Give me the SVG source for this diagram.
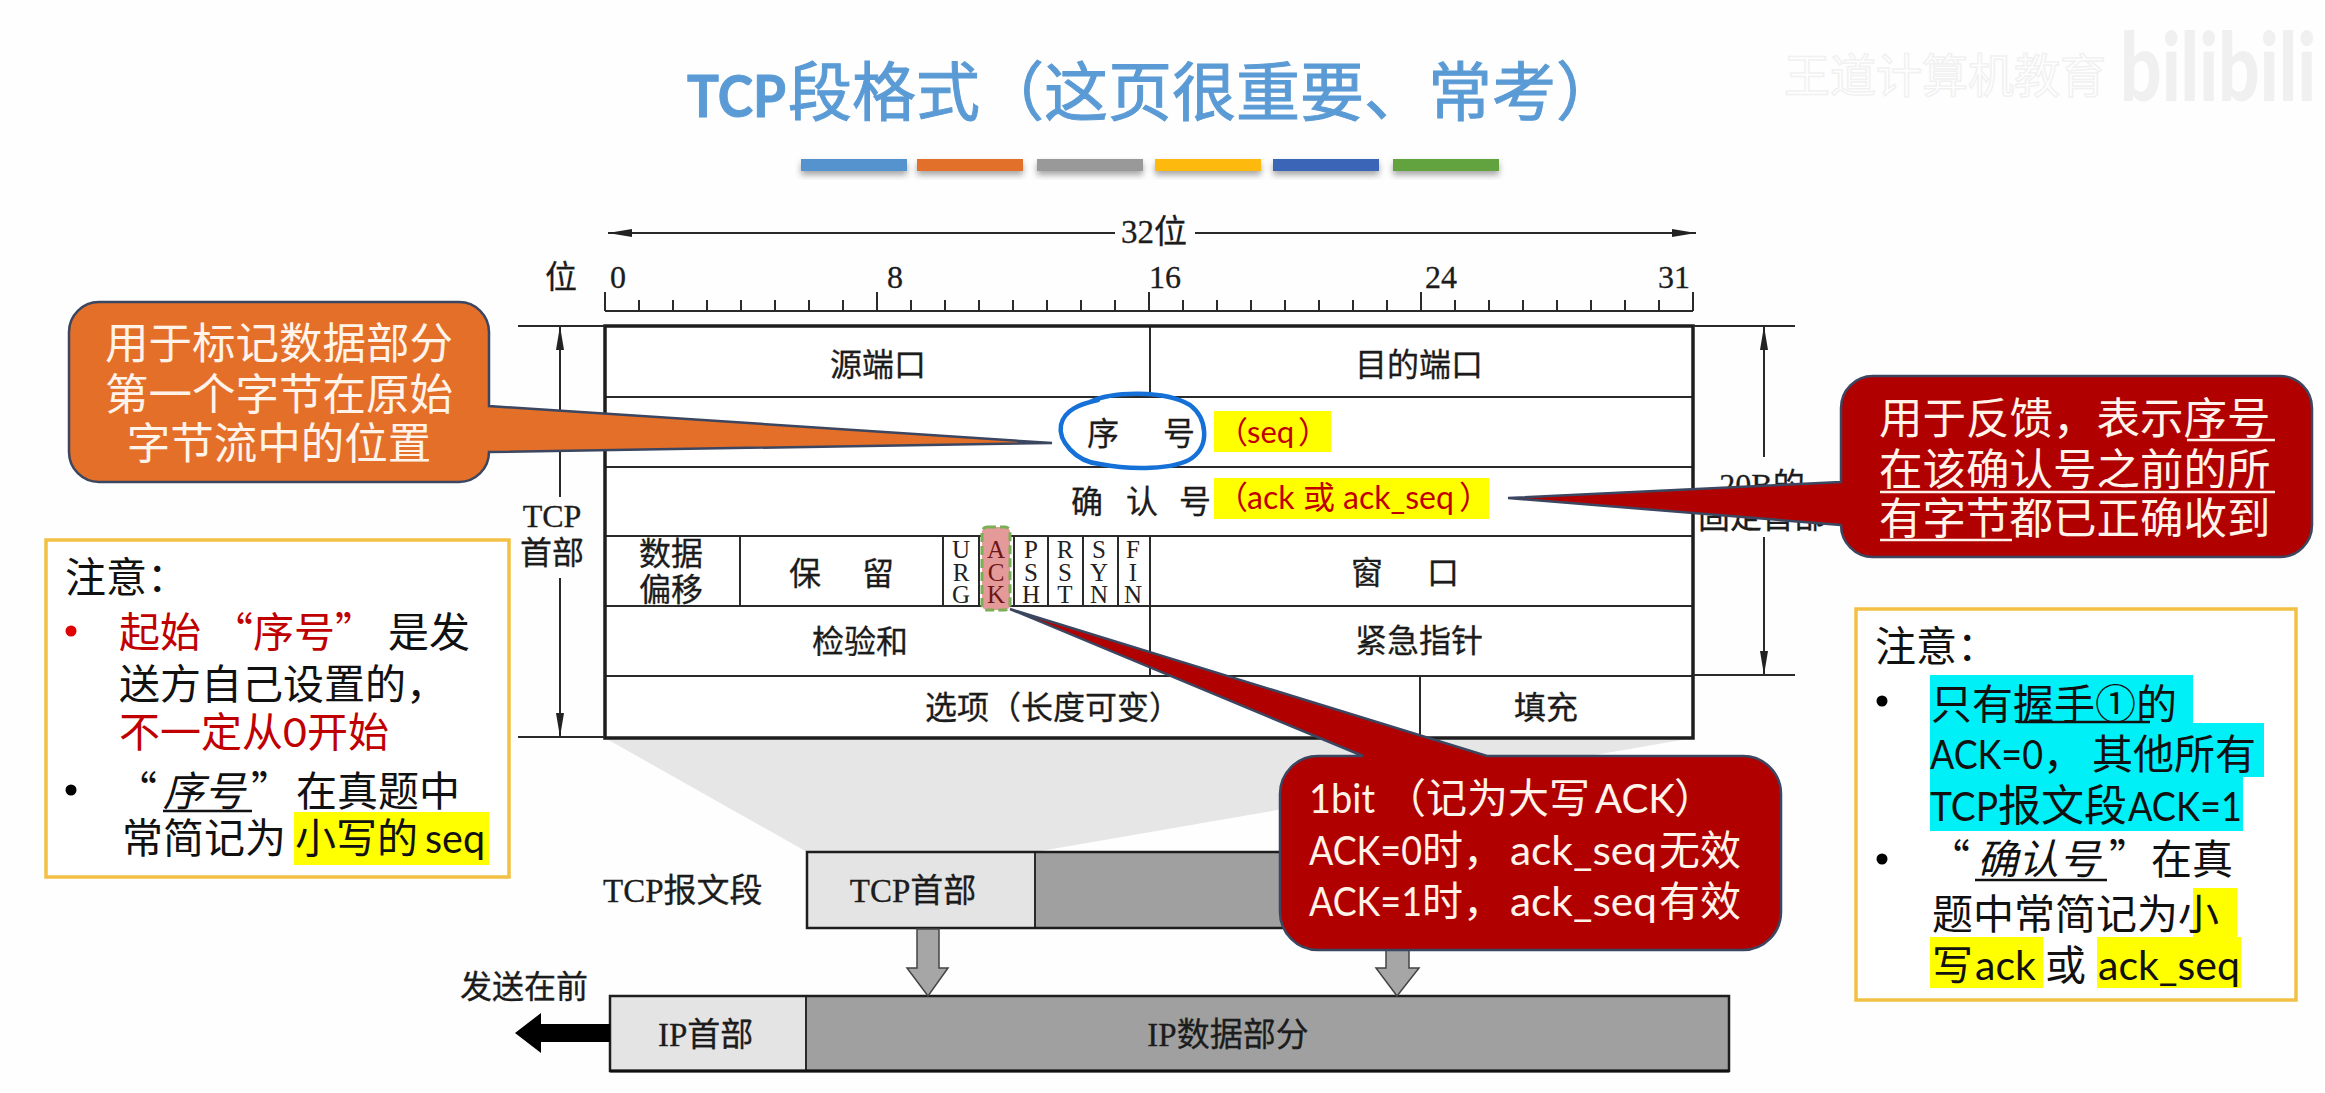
<svg xmlns="http://www.w3.org/2000/svg" width="2325" height="1093" viewBox="0 0 2325 1093">
<style>
text{white-space:pre}
.s{font-family:"Liberation Serif","Noto Sans CJK SC",serif;fill:#1c1c1c;font-size:32px;stroke:#1c1c1c;stroke-width:.3}
.c{text-anchor:middle}
.f{font-family:"Liberation Serif",serif;font-size:25px;fill:#222;text-anchor:middle}
.n{font-family:"Lato","Noto Sans CJK SC",sans-serif;font-size:41px;fill:#111}
.z{font-family:"Noto Sans CJK SC",sans-serif}
.r{fill:#c00000}
.w{fill:#fff3ea}
.rule{stroke:#2a2a2a;stroke-width:2;fill:none}
.heavy{stroke:#1e1e1e;stroke-width:3.5;fill:none}
.box{fill:#fff;stroke:#F2C043;stroke-width:3.5}
.call{stroke:#3b4660;stroke-width:2.5}
.y{fill:#ffff00}
.u{stroke:#111;stroke-width:2.5}
.uw{stroke:#fff3ea;stroke-width:2.5}
.gl{fill:#e4e4e4}
.gd{fill:#a0a0a0}
.ga{fill:#a6a6a6;stroke:#444;stroke-width:1.5}
</style>
<defs>
<filter id="sh" x="-10%" y="-50%" width="120%" height="220%"><feDropShadow dx="0" dy="4" stdDeviation="3" flood-color="#000" flood-opacity=".35"/></filter>
<marker id="ah" viewBox="0 0 24 10" refX="24" refY="5" markerWidth="24" markerHeight="10" markerUnits="userSpaceOnUse" orient="auto-start-reverse"><path d="M0 1 L24 5 L0 9 Z" fill="#222"/></marker>
</defs>
<rect width="2325" height="1093" fill="#fefefe"/>

<g id="watermark">
<text x="1784" y="92" font-size="46" class="z" style="fill:#fff;stroke:#f1f1f1;stroke-width:1.5">王道计算机教育</text>
<text transform="translate(2120 101) scale(.76 1)" font-family="Lato,sans-serif" font-weight="900" font-size="96" fill="#f0f0f0">bilibili</text>
</g>

<g id="title">
<text y="117" font-size="58" font-weight="700" font-family="Lato,sans-serif" fill="#5B9BD5" x="687" textLength="99" lengthAdjust="spacingAndGlyphs" stroke="#5B9BD5" stroke-width="1">TCP</text>
<text y="115" x="788" font-size="64" class="z" fill="#5B9BD5" stroke="#5B9BD5" stroke-width="1">段格式（这页很重要、常考）</text>
<g filter="url(#sh)">
<rect x="801" y="159" width="106" height="12" fill="#5493CE"/>
<rect x="917" y="159" width="106" height="12" fill="#E2702A"/>
<rect x="1037" y="159" width="106" height="12" fill="#999999"/>
<rect x="1155" y="159" width="106" height="12" fill="#FDB90B"/>
<rect x="1273" y="159" width="106" height="12" fill="#3A66B8"/>
<rect x="1393" y="159" width="106" height="12" fill="#62A33F"/>
</g>
</g>

<g id="bit-ruler">
<text class="s" x="545" y="288">位</text>
<text class="s" x="610" y="288">0</text>
<text class="s" x="887" y="288">8</text>
<text class="s" x="1149" y="288">16</text>
<text class="s" x="1425" y="288">24</text>
<text class="s" x="1658" y="288">31</text>
<text class="s" x="1121" y="243" style="font-size:33px">32位</text>
<path class="rule" d="M605 311H1693M605 292V311M639 300V311M673 300V311M707 300V311M741 300V311M775 300V311M809 300V311M843 300V311M877 292V311M911 300V311M945 300V311M979 300V311M1013 300V311M1047 300V311M1081 300V311M1115 300V311M1149 292V311M1183 300V311M1217 300V311M1251 300V311M1285 300V311M1319 300V311M1353 300V311M1387 300V311M1421 292V311M1455 300V311M1489 300V311M1523 300V311M1557 300V311M1591 300V311M1625 300V311M1659 300V311M1693 292V311"/>
</g>

<g id="extension-shade"><path d="M605 738H1693L1035 852H807Z" fill="#e6e6e6"/></g>

<g id="tcp-header">
<rect x="605" y="326" width="1088" height="412" fill="#fff"/>
<path class="rule" d="M1150 326V397M605 397H1693M605 467H1693M605 536H1693M605 606H1693M605 676H1693M740 536V606M943 536V606M979 536V606M1014 536V606M1048 536V606M1083 536V606M1118 536V606M1150 536V676M1420 676V738"/>
<rect x="605" y="326" width="1088" height="412" class="heavy"/>
<text class="s c" x="878" y="376">源端口</text>
<text class="s c" x="1419" y="376">目的端口</text>
<text class="s" x="1087 1163" y="445">序号</text>
<text class="s" x="1071 1126 1179" y="513">确认号</text>
<text class="s c" x="671" y="565">数据</text>
<text class="s c" x="671" y="601">偏移</text>
<text class="s" x="789 862" y="585">保留</text>
<rect x="982" y="527" width="28" height="83" rx="5" fill="#E59A9A" stroke="#7BAE55" stroke-width="3" stroke-dasharray="9 4"/>
<text class="f"><tspan x="961" y="558">U</tspan><tspan x="961" y="581">R</tspan><tspan x="961" y="603">G</tspan></text>
<text class="f" style="fill:#6e1515"><tspan x="996" y="558">A</tspan><tspan x="996" y="581">C</tspan><tspan x="996" y="603">K</tspan></text>
<text class="f"><tspan x="1031" y="558">P</tspan><tspan x="1031" y="581">S</tspan><tspan x="1031" y="603">H</tspan></text>
<text class="f"><tspan x="1065" y="558">R</tspan><tspan x="1065" y="581">S</tspan><tspan x="1065" y="603">T</tspan></text>
<text class="f"><tspan x="1099" y="558">S</tspan><tspan x="1099" y="581">Y</tspan><tspan x="1099" y="603">N</tspan></text>
<text class="f"><tspan x="1133" y="558">F</tspan><tspan x="1133" y="581">I</tspan><tspan x="1133" y="603">N</tspan></text>
<text class="s" x="1351 1427" y="584">窗口</text>
<text class="s c" x="860" y="653">检验和</text>
<text class="s c" x="1419" y="652">紧急指针</text>
<text class="s c" x="1053" y="719">选项（长度可变）</text>
<text class="s c" x="1546" y="719">填充</text>
<rect x="1214" y="411" width="117" height="41" class="y"/>
<text class="n r" style="font-size:31px" y="443"><tspan class="z" x="1217">（</tspan><tspan x="1247">seq</tspan><tspan class="z" x="1298">）</tspan></text>
<rect x="1214" y="478" width="275" height="41" class="y"/>
<text class="n r" style="font-size:32px" y="509"><tspan class="z" x="1216">（</tspan><tspan x="1247">ack</tspan><tspan class="z" x="1303">或</tspan><tspan x="1343">ack_seq</tspan><tspan class="z" x="1459">）</tspan></text>
</g>

<g id="seq-circle"><path d="M1090 402C1112 391 1165 390 1190 405C1207 418 1210 445 1192 458C1175 470 1130 470 1100 464C1075 462 1058 440 1061 425C1064 410 1080 404 1098 400" fill="none" stroke="#1570D8" stroke-width="4.5" stroke-linecap="round"/></g>

<g id="tcp-segment">
<text class="s" x="603" y="902" style="font-size:33px">TCP报文段</text>
<rect x="807" y="852" width="228" height="76" class="gl"/>
<rect x="1035" y="852" width="694" height="76" class="gd"/>
<path d="M1035 852V928" class="rule"/>
<rect x="807" y="852" width="922" height="76" fill="none" stroke="#1e1e1e" stroke-width="2.5"/>
<text class="s c" x="913" y="902" style="font-size:33px">TCP首部</text>
</g>

<g id="ip-packet">
<rect x="610" y="996" width="196" height="75" class="gl"/>
<rect x="806" y="996" width="923" height="75" class="gd"/>
<path d="M806 996V1071" class="rule"/>
<rect x="610" y="996" width="1119" height="75" fill="none" stroke="#1e1e1e" stroke-width="2.5"/>
<path d="M610 1071H1729" stroke="#111" stroke-width="3"/>
<text class="s" x="658" y="1046" style="font-size:33px">IP首部</text>
<text class="s c" x="1228" y="1046" style="font-size:33px">IP数据部分</text>
<text class="s" x="460" y="998">发送在前</text>
</g>

<g id="connectors">
<path class="rule" d="M1115 233H608" marker-end="url(#ah)"/>
<path class="rule" d="M1195 233H1696" marker-end="url(#ah)"/>
<path class="rule" d="M518 326H605M518 737H605"/>
<path class="rule" d="M560 497V326" marker-end="url(#ah)"/>
<path class="rule" d="M560 578V737" marker-end="url(#ah)"/>
<path class="rule" d="M1693 326H1795M1693 675H1795"/>
<path class="rule" d="M1764 457V326" marker-end="url(#ah)"/>
<path class="rule" d="M1764 537V675" marker-end="url(#ah)"/>
<path class="ga" d="M917 929H939V968H948L928 996L907 968H917Z"/>
<path class="ga" d="M1386 929H1409V968H1419L1397 996L1376 968H1386Z"/>
<path d="M610 1024H541V1013L515 1033L541 1053V1042H610Z" fill="#000"/>
</g>

<g id="tcp-header-label">
<text class="s c" x="552" y="527">TCP</text>
<text class="s c" x="552" y="564">首部</text>
</g>
<g id="fixed-header-label">
<text class="s c" x="1762" y="496">20B的</text>
<text class="s c" x="1762" y="528">固定首部</text>
</g>

<g id="callout-seq">
<path class="call" fill="#E46F29" d="M99 302H459A30 30 0 0 1 489 332V406L1052 443L489 452A30 30 0 0 1 459 482H99A30 30 0 0 1 69 452V332A30 30 0 0 1 99 302Z"/>
<text class="z w c" font-size="43.5" x="279" y="359">用于标记数据部分</text>
<text class="z w c" font-size="43.5" x="279" y="410">第一个字节在原始</text>
<text class="z w c" font-size="43.5" x="279" y="459">字节流中的位置</text>
</g>

<g id="callout-ack-number">
<path class="call" fill="#B10000" d="M1873 376H2280A32 32 0 0 1 2312 408V525A32 32 0 0 1 2280 557H1873A32 32 0 0 1 1841 525L1508 498L1841 482V408A32 32 0 0 1 1873 376Z"/>
<text class="z w" font-size="43.5" x="1879" y="434">用于反馈，表示序号</text>
<text class="z w" font-size="43.5" x="1879" y="485">在该确认号之前的所</text>
<text class="z w" font-size="43.5" x="1879" y="534">有字节都已正确收到</text>
<path class="uw" d="M2187 440H2275M1880 492H2275M1880 540H2012"/>
</g>

<g id="callout-ack-flag">
<path class="call" fill="#B10000" d="M1318 756H1363L1010 609L1487 756H1743A38 38 0 0 1 1781 794V912A38 38 0 0 1 1743 950H1318A38 38 0 0 1 1280 912V794A38 38 0 0 1 1318 756Z"/>
<text class="n w" x="1309" y="813" textLength="66" lengthAdjust="spacingAndGlyphs">1bit</text>
<text class="z w" font-size="41" x="1385" y="813">（记为大写</text>
<text class="n w" x="1595" y="813" textLength="80" lengthAdjust="spacingAndGlyphs">ACK</text>
<text class="z w" font-size="41" x="1674" y="813">）</text>
<text class="n w" x="1309" y="865" textLength="113" lengthAdjust="spacingAndGlyphs">ACK=0</text>
<text class="z w" font-size="41" x="1422" y="865">时，</text>
<text class="n w" x="1510" y="865" textLength="147" lengthAdjust="spacingAndGlyphs">ack_seq</text>
<text class="z w" font-size="41" x="1659" y="865">无效</text>
<text class="n w" x="1309" y="916" textLength="113" lengthAdjust="spacingAndGlyphs">ACK=1</text>
<text class="z w" font-size="41" x="1422" y="916">时，</text>
<text class="n w" x="1510" y="916" textLength="147" lengthAdjust="spacingAndGlyphs">ack_seq</text>
<text class="z w" font-size="41" x="1659" y="916">有效</text>
</g>

<g id="note-left">
<rect x="46" y="540" width="463" height="337" class="box"/>
<text class="n z" x="65" y="592" font-size="41">注意：</text>
<circle cx="71" cy="631" r="5.5" fill="#e00000"/>
<circle cx="71" cy="790" r="5.5" fill="#000"/>
<text class="n z" y="647"><tspan class="r" x="119">起始</tspan><tspan class="r" x="212">“序号”</tspan><tspan x="388">是发</tspan></text>
<text class="n z" x="119" y="699">送方自己设置的，</text>
<text class="n" y="747"><tspan class="z r" x="119">不一定从</tspan><tspan class="r" x="283">0</tspan><tspan class="z r" x="307">开始</tspan></text>
<rect x="294" y="812" width="195" height="53" class="y"/>
<text class="n z" y="806"><tspan x="116">“</tspan><tspan x="163" font-style="italic">序号</tspan><tspan x="251">”</tspan><tspan x="296">在真题中</tspan></text>
<path class="u" d="M163 811H252"/>
<text class="z" font-size="41" fill="#111" y="853"><tspan x="122">常简记为</tspan><tspan x="295">小写的</tspan></text>
<text class="n" x="425" y="853" textLength="60" lengthAdjust="spacingAndGlyphs">seq</text>
</g>

<g id="note-right">
<rect x="1856" y="609" width="440" height="391" class="box"/>
<text class="n z" x="1875" y="661" font-size="42">注意：</text>
<circle cx="1882" cy="701" r="5.5" fill="#000"/>
<circle cx="1882" cy="859" r="5.5" fill="#000"/>
<path fill="#00F0F8" d="M1930 675H2193V723H2264V777H2243V831H1930Z"/>
<path class="y" d="M2193 888H2237V937H2043V988H1930V937H2193Z"/>
<rect x="2097" y="937" width="144" height="51" class="y"/>
<text class="n z" x="1931" y="719" font-size="43">只有握手①的</text>
<text class="n" x="1930" y="769" textLength="113" lengthAdjust="spacingAndGlyphs">ACK=0</text>
<text class="z" font-size="41" fill="#111" y="769"><tspan x="2043">，</tspan><tspan x="2092">其他所有</tspan></text>
<text class="n" x="1930" y="821" textLength="68" lengthAdjust="spacingAndGlyphs">TCP</text>
<text class="z" font-size="43" fill="#111" x="1998" y="821">报文段</text>
<text class="n" x="2128" y="821" textLength="114" lengthAdjust="spacingAndGlyphs">ACK=1</text>
<path class="u" d="M2018 722H2150M1975 880H2107"/>
<text class="n z" y="874"><tspan x="1929">“</tspan><tspan x="1977" font-style="italic">确认号</tspan><tspan x="2109">”</tspan><tspan x="2151">在真</tspan></text>
<text class="n z" x="1932" y="929" font-size="43">题中常简记为小</text>
<text class="n" y="980"><tspan class="z" x="1932">写</tspan><tspan x="1975">ack</tspan><tspan class="z" x="2045">或</tspan><tspan x="2098">ack_seq</tspan></text>
</g>
</svg>
